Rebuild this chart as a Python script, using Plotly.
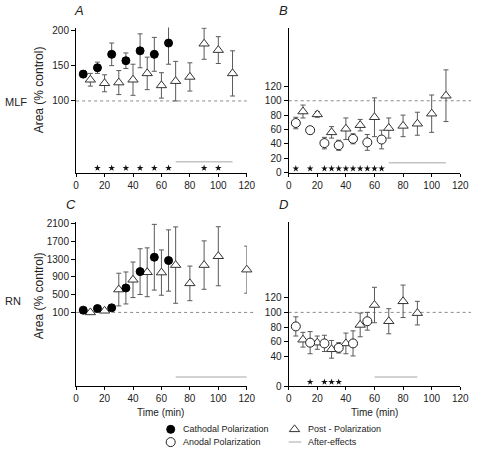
import plotly.graph_objects as go

# ---------------- data ----------------
A_cath_t = [5, 15, 25, 35, 45, 55, 65]
A_cath = [138, 147, 166, 157, 171, 166, 182]
A_cath_err = [5, 8, 16, 11, 24, 24, 30]
A_post_t = [10, 20, 30, 40, 50, 60, 70, 80, 90, 100, 110]
A_post = [130, 125, 126, 130, 139, 122, 128, 134, 181, 172, 139]
A_post_err = [9, 12, 17, 22, 23, 18, 28, 20, 22, 19, 32]
A_stars_t = [15, 25, 35, 45, 55, 65, 90, 100]
A_after_t = [70, 110]

B_anod_t = [5, 15, 25, 35, 45, 55, 65]
B_anod = [69, 59, 41, 38, 47, 42, 46]
B_anod_err = [8, 5, 8, 7, 7, 11, 13]
B_post_t = [10, 20, 30, 40, 50, 60, 70, 80, 90, 100, 110]
B_post = [85, 81, 56, 61, 66, 77, 62, 65, 68, 82, 107]
B_post_err = [9, 4, 8, 15, 8, 27, 14, 15, 16, 26, 36]
B_stars_t = [5, 15, 25, 30, 35, 40, 45, 50, 55, 60, 65]
B_after_t = [70, 110]

C_cath_t = [5, 15, 25, 35, 45, 55, 65]
C_cath = [151, 188, 203, 651, 1019, 1343, 1269]
C_cath_err = [30, 40, 30, 360, 515, 740, 690]
C_post_t = [10, 20, 30, 40, 50, 60, 70, 80, 90, 100, 120]
C_post = [100, 137, 615, 835, 1004, 997, 1166, 754, 1166, 1365, 1063]
C_post_err = [20, 30, 368, 400, 550, 510, 860, 390, 545, 665, 530]
C_after_t = [70, 120]

D_anod_t = [5, 15, 25, 35, 45, 55]
D_anod = [81, 59, 58, 52, 58, 88]
D_anod_err = [13, 15, 11, 7, 17, 12]
D_post_t = [10, 20, 30, 40, 50, 60, 70, 80, 90]
D_post = [63, 59, 50, 58, 83, 110, 88, 115, 99]
D_post_err = [10, 9, 12, 14, 16, 24, 17, 22, 16]
D_stars_t = [15, 25, 30, 35]
D_after_t = [60, 90]

x_ticks = [0, 20, 40, 60, 80, 100, 120]
A_yticks = [100, 150, 200]
B_yticks = [0, 20, 40, 60, 80, 100, 120]
C_yticks = [100, 500, 900, 1300, 1700, 2100]
D_yticks = [0, 40, 60, 80, 100, 120]

# ---------------- layout helpers ----------------
W, H = 480, 453
FONT = "Liberation Sans, Arial, sans-serif"
ERRC = "#5a5a5a"
TXT = "#222222"


def px(x):
    return x / W


def py(y):
    return 1 - y / H


fig = go.Figure()

panels = {
    "A": dict(ax="", xd=[75, 250], yd=[25, 173], yr=[-1.4, 204], yt=A_yticks, aft=14, star=5, after=A_after_t),
    "B": dict(ax="2", xd=[293, 469], yd=[25, 173], yr=[0, 202], yt=B_yticks, aft=13.6, star=5.5, after=B_after_t),
    "C": dict(ax="3", xd=[75, 250], yd=[223, 391], yr=[-1562, 2146], yt=C_yticks, aft=-1356, star=None, after=C_after_t),
    "D": dict(ax="4", xd=[293, 469], yd=[223, 391], yr=[0, 223], yt=D_yticks, aft=12.4, star=5.7, after=D_after_t),
}


def err(e, w=2.5):
    return dict(type="data", array=e, visible=True, color=ERRC, thickness=1, width=w)


MK_CATH = dict(symbol="circle", size=8, color="black", line=dict(color="black", width=1))
MK_ANOD = dict(symbol="circle", size=9, color="white", line=dict(color="#222222", width=1))
MK_POST = dict(symbol="triangle-up", size=9, color="white", line=dict(color="#333333", width=1))

for p, d in panels.items():
    a = d["ax"]
    fig.add_trace(go.Scatter(x=d["after"], y=[d["aft"]] * 2, mode="lines",
                             line=dict(color="#c4c4c4", width=1.5),
                             xaxis="x" + a, yaxis="y" + a, showlegend=False))


def add_series(p, t, v, e, mk):
    a = panels[p]["ax"]
    fig.add_trace(go.Scatter(x=t, y=v, mode="markers", marker=mk, error_y=err(e),
                             xaxis="x" + a, yaxis="y" + a, showlegend=False, cliponaxis=False))


add_series("A", A_post_t, A_post, A_post_err, MK_POST)
add_series("A", A_cath_t, A_cath, A_cath_err, MK_CATH)
add_series("B", B_post_t, B_post, B_post_err, MK_POST)
add_series("B", B_anod_t, B_anod, B_anod_err, MK_ANOD)
add_series("C", C_post_t, C_post, C_post_err, MK_POST)
add_series("C", C_cath_t, C_cath, C_cath_err, MK_CATH)
add_series("D", D_post_t, D_post, D_post_err, MK_POST)
add_series("D", D_anod_t, D_anod, D_anod_err, MK_ANOD)

stars = {"A": A_stars_t, "B": B_stars_t, "D": D_stars_t}
for p, st in stars.items():
    a = panels[p]["ax"]
    fig.add_trace(go.Scatter(x=st, y=[panels[p]["star"]] * len(st), mode="markers",
                             marker=dict(symbol="star", size=5, color="#111111", line=dict(width=0)),
                             xaxis="x" + a, yaxis="y" + a, showlegend=False, cliponaxis=False))

lay = {}
for p, d in panels.items():
    a = d["ax"]
    lay["xaxis" + a] = dict(domain=[px(d["xd"][0]), px(d["xd"][1])], range=[0, 120], anchor="y" + a,
                            showline=True, linecolor="black", linewidth=1.3, ticks="outside", ticklen=3,
                            tickcolor="black", tickwidth=1, tickvals=x_ticks,
                            tickfont=dict(family=FONT, size=10, color=TXT), ticklabeloverflow="allow",
                            showgrid=False, zeroline=False, fixedrange=True)
    lay["yaxis" + a] = dict(domain=[py(d["yd"][1]), py(d["yd"][0])], range=d["yr"], anchor="x" + a,
                            showline=True, linecolor="black", linewidth=1.3, ticks="outside", ticklen=4,
                            tickcolor="black", tickwidth=1, tickvals=d["yt"],
                            tickfont=dict(family=FONT, size=10, color=TXT),
                            showgrid=False, zeroline=False, fixedrange=True)

shapes = []
ref_spans = {"A": [75, 250], "B": [293, 480], "C": [75, 258], "D": [293, 480]}
for p, d in panels.items():
    a = d["ax"]
    x0, x1 = ref_spans[p]
    shapes.append(dict(type="line", xref="paper", yref="y" + a, x0=px(x0), x1=px(x1), y0=100, y1=100,
                       line=dict(color="#8a8a8a", width=1, dash="dot"), layer="below"))

lay["xaxis5"] = dict(domain=[0, 1], range=[0, W], visible=False, anchor="y5", fixedrange=True)
lay["yaxis5"] = dict(domain=[0, py(426)], range=[H, 426], visible=False, anchor="x5", fixedrange=True)
leg_keys = [
    (172, 435, MK_CATH),
    (172, 448, MK_ANOD),
    (299, 435, MK_POST),
]
for lx, ly, mk in leg_keys:
    fig.add_trace(go.Scatter(x=[lx], y=[ly], mode="markers", marker=mk, xaxis="x5", yaxis="y5",
                             showlegend=False, cliponaxis=False))
fig.add_trace(go.Scatter(x=[293, 306], y=[448, 448], mode="lines", line=dict(color="#c4c4c4", width=1.5),
                         xaxis="x5", yaxis="y5", showlegend=False, cliponaxis=False))

ann = []


def text(x, y, s, size=10, xanchor="left", italic=False, angle=0, color=TXT):
    ann.append(dict(x=px(x), y=py(y), xref="paper", yref="paper", text=s, showarrow=False,
                    xanchor=xanchor, yanchor="middle", textangle=angle, borderpad=0,
                    font=dict(family=FONT, size=size, color=color, style="italic" if italic else "normal")))


text(184, 435, "Cathodal Polarization", size=9)
text(184, 447.5, "Anodal Polarization", size=9)
text(312, 435, "Post - Polarization", size=9)
text(312, 447.5, "After-effects", size=9)
text(162, 418, "Time (min)", size=10, xanchor="center")
text(381, 418, "Time (min)", size=10, xanchor="center")
text(37, 89, "Area (% control)", size=12, xanchor="center", angle=-90)
text(37, 299, "Area (% control)", size=12, xanchor="center", angle=-90)
text(1, 101, "MLF", size=11)
text(1, 304, "RN", size=11)
text(72, 8, "A", size=13, italic=True)
text(282, 8, "B", size=13, italic=True)
text(64, 206, "C", size=13, italic=True)
text(282, 206, "D", size=13, italic=True)

fig.update_layout(width=W, height=H, margin=dict(l=0, r=0, t=0, b=0),
                  paper_bgcolor="white", plot_bgcolor="rgba(0,0,0,0)", showlegend=False,
                  shapes=shapes, annotations=ann, **lay)

post = (
    "var s=document.createElement('style');"
    "s.textContent='html,body{margin:0!important;padding:0!important;overflow:hidden!important;}"
    ".plotly-graph-div{display:block!important;}';"
    "document.head.appendChild(s);"
)
fig.write_html("out.html", post_script=post, config={"displayModeBar": False})
